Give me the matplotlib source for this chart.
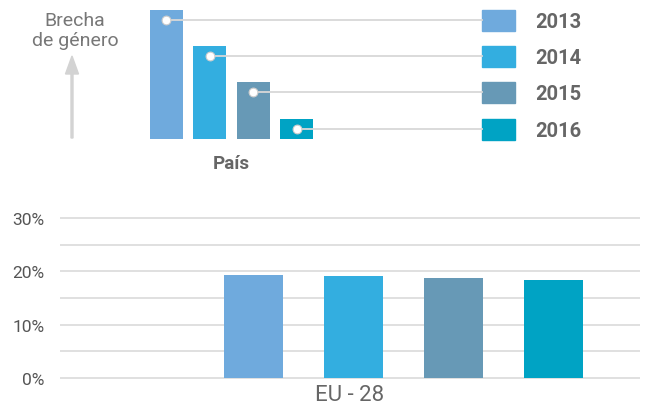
import matplotlib.pyplot as plt

plt.rcParams['font.family'] = ['Roboto', 'DejaVu Sans']

years = ["2013", "2014", "2015", "2016"]
colors = ["#6faadd", "#33aee0", "#6799b6", "#00a3c4"]
category = "EU - 28"
gap = [19.3, 19.1, 18.7, 18.4]

# schematic key (pixel units of the 648x410 canvas)
key_heights = [129, 93, 57, 20]
KEY_X0 = 166
KEY_STEP = 43.6
KEY_BASE = 139.5
KEY_W = 33
BOX_X = 482
BOX_W = 33
BOX_H = 21

TEXT = "#666666"
GRID = "#dadada"

fig = plt.figure(figsize=(6.48, 4.10), dpi=100)

# ---- main chart ----
px_per_pct = 5.33
bottom_px = 379 + 0.5 * px_per_pct
top_px = 219 - 0.5 * px_per_pct
ax = fig.add_axes([60 / 648, (410 - bottom_px) / 410, 580 / 648, (bottom_px - top_px) / 410])
ax.set_xlim(-2.9, 2.9)
ax.set_ylim(-0.5, 30.5)

for v in range(0, 31, 5):
    ax.axhline(v, color=GRID, lw=1.2, zorder=0)

for i, (val, c) in enumerate(zip(gap, colors)):
    ax.bar(0.035 + (i - 1), val, width=0.59, color=c, zorder=2)

ax.set_yticks([0, 10, 20, 30])
ax.set_yticklabels(["0%", "10%", "20%", "30%"], fontsize=12.5, color="#555555")
ax.set_xticks([0])
ax.set_xticklabels([category], fontsize=16, color=TEXT)
ax.tick_params(axis="y", length=0, pad=11)
ax.tick_params(axis="x", length=0, pad=2.5)
for s in ax.spines.values():
    s.set_visible(False)

# ---- key ----
kx = fig.add_axes([0, 0, 1, 1])
kx.set_xlim(0, 648)
kx.set_ylim(410, 0)
kx.axis("off")

for i, (h, c, yr) in enumerate(zip(key_heights, colors, years)):
    x = KEY_X0 + i * KEY_STEP
    kx.bar(x, -h, bottom=KEY_BASE, width=KEY_W, color=c, zorder=2)
    yc = KEY_BASE - h + 10.5
    kx.plot([x, BOX_X], [yc, yc], color="#d8d8d8", lw=1.3, zorder=3)
    kx.scatter([x], [yc], s=40, color="white", edgecolor="#cccccc", linewidth=0.8, zorder=4)
    kx.add_patch(plt.Rectangle((BOX_X, yc - BOX_H / 2), BOX_W, BOX_H, color=c, zorder=2))
    kx.text(535, yc + 1.5, yr, fontsize=14.5, fontweight="bold", color=TEXT, va="center", ha="left")

kx.text(75, 31, "Brecha\nde género", fontsize=14, color="#777777", ha="center", va="center",
        linespacing=1.2)
kx.arrow(72, 139, 0, -82, width=2, head_width=13, head_length=18,
         length_includes_head=True, color="#d3d3d3", zorder=1)
kx.text(231, 164, "País", fontsize=13.5, fontweight="bold", color=TEXT, ha="center", va="center")

fig.savefig("out.png", dpi=100)
